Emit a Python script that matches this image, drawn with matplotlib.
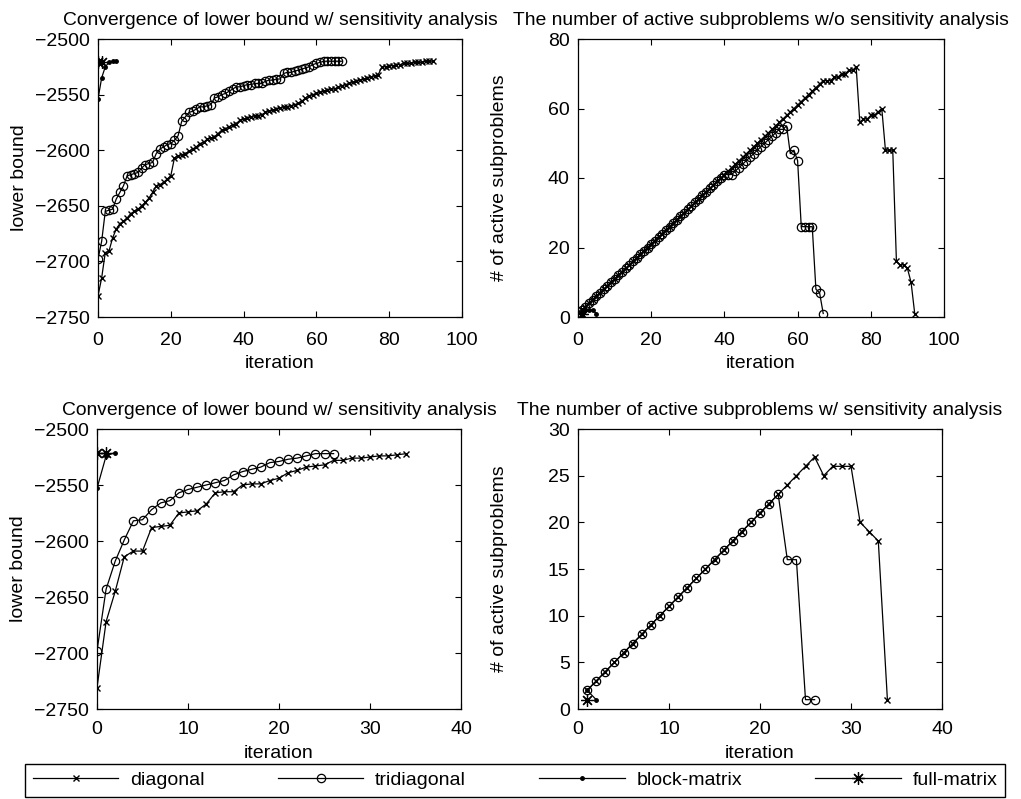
import matplotlib
matplotlib.use("Agg")
import matplotlib.pyplot as plt
from matplotlib.lines import Line2D

plt.rcParams['font.family'] = ['Liberation Sans', 'DejaVu Sans']
plt.rcParams['font.size'] = 14

# ---------------- data: without sensitivity analysis (top row) ----------------
lb1_diag = [-2731, -2715, -2692, -2691, -2679, -2671, -2666, -2664, -2661, -2657,
            -2655, -2653, -2650, -2647, -2643, -2638, -2632, -2631, -2629, -2626,
            -2623, -2607, -2605, -2604, -2603, -2601, -2599, -2597, -2594, -2593,
            -2590, -2589, -2588, -2585, -2582, -2581, -2579, -2577, -2576, -2573,
            -2572, -2571, -2570, -2569, -2569, -2568, -2566, -2565, -2564, -2563,
            -2562, -2561, -2561, -2560, -2559, -2558, -2556, -2553, -2551, -2550,
            -2549, -2548, -2547, -2546, -2545, -2545, -2543, -2542, -2541, -2540,
            -2539, -2538, -2537, -2536, -2535, -2534, -2533, -2532, -2525, -2525,
            -2524, -2524, -2523, -2523, -2522, -2522, -2522, -2521, -2521, -2521,
            -2520, -2520, -2520]
lb1_tri = [-2698, -2682, -2655, -2654, -2653, -2644, -2638, -2632, -2623, -2622,
           -2621, -2620, -2616, -2613, -2612, -2611, -2603, -2599, -2597, -2595,
           -2594, -2591, -2587, -2574, -2570, -2566, -2565, -2563, -2561, -2561,
           -2560, -2559, -2553, -2552, -2550, -2549, -2547, -2545, -2543, -2543,
           -2542, -2541, -2541, -2540, -2540, -2540, -2538, -2537, -2537, -2536,
           -2536, -2531, -2530, -2530, -2529, -2528, -2527, -2526, -2525, -2523,
           -2522, -2521, -2520, -2520, -2520, -2520, -2520, -2520]
lb1_block = [-2554, -2535, -2525, -2521, -2520, -2520]
lb1_full = [-2521, -2521]

act1_diag = [2, 3, 4, 5, 6, 7, 8, 9, 10, 11,
             12, 13, 14, 15, 16, 17, 18, 19, 20, 21,
             22, 23, 24, 25, 26, 27, 28, 29, 30, 31,
             32, 33, 34, 35, 36, 37, 38, 39, 40, 41,
             42, 43, 44, 45, 46, 47, 48, 49, 50, 51,
             52, 53, 54, 55, 56, 57, 58, 59, 60, 61,
             62, 63, 64, 65, 66, 67, 68, 68, 68, 69,
             69, 70, 70, 71, 71, 72, 56, 57, 57, 58,
             58, 59, 60, 48, 48, 48, 16, 15, 15, 14,
             10, 1]
act1_tri = [2, 3, 4, 5, 6, 7, 8, 9, 10, 11,
            12, 13, 14, 15, 16, 17, 18, 19, 20, 21,
            22, 23, 24, 25, 26, 27, 28, 29, 30, 31,
            32, 33, 34, 35, 36, 37, 38, 39, 40, 41,
            41, 41, 42, 43, 44, 45, 46, 47, 48, 49,
            50, 51, 52, 53, 54, 54, 55, 47, 48, 45,
            26, 26, 26, 26, 8, 7, 1]
act1_block = [2, 2, 2, 2, 1]
act1_full = [1]

# ---------------- data: with sensitivity analysis (bottom row) ----------------
lb2_diag = [-2731, -2672, -2645, -2614, -2609, -2609, -2588, -2587, -2586, -2575,
            -2574, -2573, -2567, -2557, -2556, -2556, -2550, -2549, -2549, -2546,
            -2544, -2539, -2537, -2534, -2533, -2532, -2528, -2528, -2526, -2526,
            -2525, -2524, -2524, -2523, -2522]
lb2_tri = [-2698, -2643, -2618, -2599, -2582, -2581, -2572, -2566, -2564, -2557,
           -2554, -2552, -2550, -2548, -2546, -2541, -2538, -2536, -2534, -2530,
           -2529, -2527, -2526, -2524, -2522, -2522, -2522]
lb2_block = [-2553, -2524, -2521]
lb2_full = [-2521, -2521]

act2_diag = [2, 3, 4, 5, 6, 7, 8, 9, 10, 11,
             12, 13, 14, 15, 16, 17, 18, 19, 20, 21,
             22, 23, 24, 25, 26, 27, 25, 26, 26, 26,
             20, 19, 18, 1]
act2_tri = [2, 3, 4, 5, 6, 7, 8, 9, 10, 11,
            12, 13, 14, 15, 16, 17, 18, 19, 20, 21,
            22, 23, 16, 16, 1, 1]
act2_block = [2, 1]
act2_full = [1]

labels = ['diagonal', 'tridiagonal', 'block-matrix', 'full-matrix']
titles = ['Convergence of lower bound w/ sensitivity analysis',
          'The number of active subproblems w/o sensitivity analysis',
          'Convergence of lower bound w/ sensitivity analysis',
          'The number of active subproblems w/ sensitivity analysis']

styles = [dict(marker='x', ms=5, mew=1.0),
          dict(marker='o', ms=6, mfc='none', mew=0.9),
          dict(marker='.', ms=5),
          dict(marker=(8, 2, 0), ms=9, mew=0.9)]

W, H = 1021, 799
fig = plt.figure(figsize=(W / 100, H / 100), dpi=100)

def box(l, r, t, b):
    return [l / W, 1 - b / H, (r - l) / W, (b - t) / H]

axes = [fig.add_axes(box(98, 462, 39, 317)),
        fig.add_axes(box(578, 944, 39, 317)),
        fig.add_axes(box(97, 461, 429, 709)),
        fig.add_axes(box(578, 942, 429, 709))]

def draw(ax, series, x0):
    for vals, st in zip(series, styles):
        xs = list(range(x0, x0 + len(vals)))
        ax.plot(xs, vals, color='black', lw=0.9, **st)

draw(axes[0], [lb1_diag, lb1_tri, lb1_block, lb1_full], 0)
draw(axes[1], [act1_diag, act1_tri, act1_block, act1_full], 1)
draw(axes[2], [lb2_diag, lb2_tri, lb2_block, lb2_full], 0)
draw(axes[3], [act2_diag, act2_tri, act2_block, act2_full], 1)

axes[0].set_xlim(0, 100); axes[0].set_ylim(-2750, -2500)
axes[1].set_xlim(0, 100); axes[1].set_ylim(0, 80)
axes[2].set_xlim(0, 40); axes[2].set_ylim(-2750, -2500)
axes[3].set_xlim(0, 40); axes[3].set_ylim(0, 30)
axes[0].set_xticks(range(0, 101, 20)); axes[0].set_yticks(range(-2750, -2499, 50))
axes[1].set_xticks(range(0, 101, 20)); axes[1].set_yticks(range(0, 81, 20))
axes[2].set_xticks(range(0, 41, 10)); axes[2].set_yticks(range(-2750, -2499, 50))
axes[3].set_xticks(range(0, 41, 10)); axes[3].set_yticks(range(0, 31, 5))

for i, ax in enumerate(axes):
    ax.set_title(titles[i], fontsize=13.9, pad=10)
    ax.set_xlabel('iteration', fontsize=14)
    ax.set_ylabel('lower bound' if i % 2 == 0 else '# of active subproblems', fontsize=14)
    ax.yaxis.set_label_coords(-0.192, 0.5)
    ax.xaxis.set_label_coords(0.5, -0.137 if i < 2 else -0.128)
    ax.tick_params(direction='in', top=True, right=True, length=4, width=0.8, labelsize=14)
    ax.tick_params(axis='x', pad=11 if i < 2 else 9)
    ax.tick_params(axis='y', pad=6)
    for sp in ax.spines.values():
        sp.set_linewidth(0.9)

handles = [Line2D([], [], color='black', lw=0.9, **st) for st in styles]
fig.legend(handles, labels, loc='lower left',
           bbox_to_anchor=(25 / W, 2 / H, 980 / W, 33 / H), mode='expand',
           ncol=4, handlelength=4.4, numpoints=1, frameon=True, fancybox=False,
           edgecolor='black', borderaxespad=0, fontsize=14, borderpad=0.4,
           handletextpad=0.6, framealpha=1)

fig.savefig('out.png', dpi=100)
